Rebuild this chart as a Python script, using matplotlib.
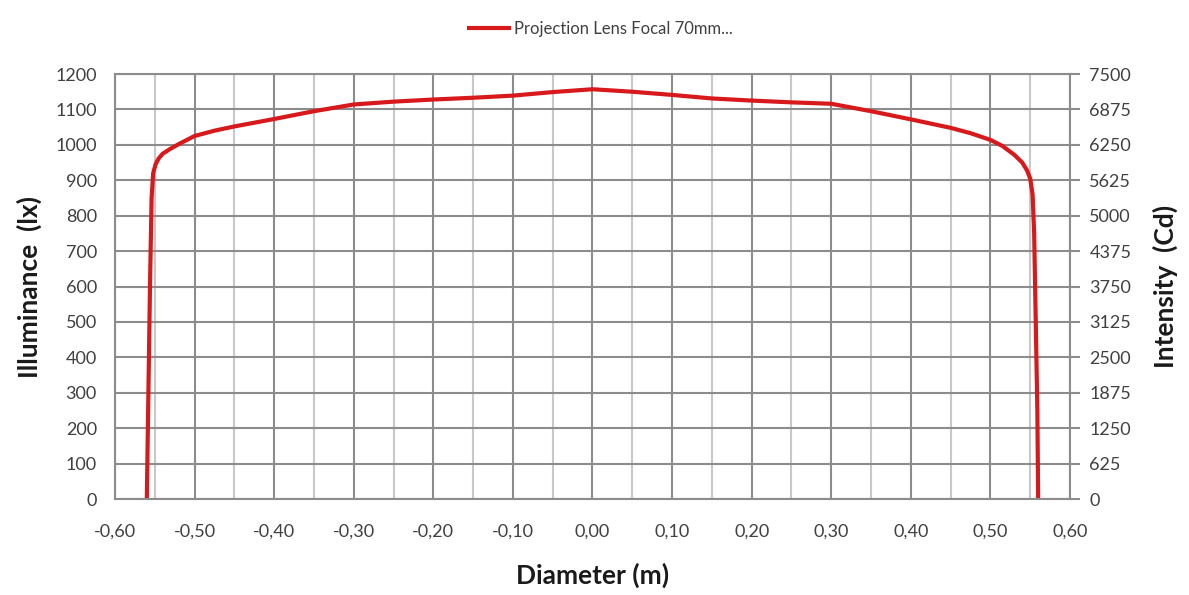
import matplotlib
matplotlib.use("Agg")
import matplotlib.pyplot as plt
from matplotlib.ticker import MultipleLocator

plt.rcParams['font.family'] = ['Lato', 'DejaVu Sans']

# Datos
diameter = [-0.560, -0.558, -0.556, -0.554, -0.552, -0.549, -0.545, -0.540, -0.531,
            -0.520, -0.500, -0.475, -0.450, -0.400, -0.350, -0.300, -0.250, -0.200,
            -0.150, -0.100, -0.050, 0.000, 0.050, 0.100, 0.150, 0.200, 0.250, 0.300,
            0.350, 0.400, 0.450, 0.475, 0.500, 0.515, 0.530, 0.540, 0.546, 0.550,
            0.553, 0.555, 0.557, 0.559, 0.560]
illuminance = [0, 300, 600, 850, 920, 945, 962, 975, 988,
               1002, 1025, 1040, 1052, 1073, 1095, 1114, 1122, 1128,
               1133, 1139, 1149, 1157, 1150, 1141, 1131, 1125, 1120, 1116,
               1095, 1072, 1048, 1033, 1014, 997, 972, 950, 928, 905,
               860, 750, 500, 250, 0]

xticks = [-0.6, -0.5, -0.4, -0.3, -0.2, -0.1, 0.0, 0.1, 0.2, 0.3, 0.4, 0.5, 0.6]
xlabels = ["-0,60", "-0,50", "-0,40", "-0,30", "-0,20", "-0,10", "0,00",
           "0,10", "0,20", "0,30", "0,40", "0,50", "0,60"]
left_ticks = [0, 100, 200, 300, 400, 500, 600, 700, 800, 900, 1000, 1100, 1200]
right_ticks = [0, 625, 1250, 1875, 2500, 3125, 3750, 4375, 5000, 5625, 6250, 6875, 7500]

fig = plt.figure(figsize=(11.89, 5.95), dpi=100)
ax = fig.add_axes([0.0967, 0.1613, 0.8032, 0.7143])

major = '#8c8c8c'
minor = '#c8c8c8'
txt = '#404040'

ax.set_xlim(-0.6, 0.6)
ax.set_ylim(0, 1200)
ax.set_xticks(xticks)
ax.set_xticklabels(xlabels)
ax.xaxis.set_minor_locator(MultipleLocator(0.05))
ax.set_yticks(left_ticks)
ax.grid(which='major', color=major, linewidth=1.5)
ax.grid(which='minor', axis='x', color=minor, linewidth=1.5)
ax.set_axisbelow(True)
for s in ax.spines.values():
    s.set_color(major)
    s.set_linewidth(1.5)
ax.tick_params(axis='both', which='both', length=0, labelsize=13, labelcolor=txt)
ax.tick_params(axis='x', pad=18)
ax.tick_params(axis='y', pad=13)

ax.plot(diameter, illuminance, color='#d7191c', linewidth=3, label='Projection Lens Focal 70mm...')

ax2 = ax.twinx()
ax2.set_ylim(0, 7500)
ax2.set_yticks(right_ticks)
for s in ax2.spines.values():
    s.set_visible(False)
ax2.tick_params(axis='y', length=7, width=1.5, color=major, labelsize=13, labelcolor=txt, pad=7)

ax.set_xlabel('Diameter (m)', fontsize=19, fontweight='bold', color='#1a1a1a', labelpad=16)
ax.set_ylabel('Illuminance  (lx)', fontsize=19, fontweight='bold', color='#1a1a1a', labelpad=10)
ax2.set_ylabel('Intensity  (Cd)', fontsize=19, fontweight='bold', color='#1a1a1a', labelpad=15)

fig.legend(loc='upper center', bbox_to_anchor=(0.505, 0.99), frameon=False, fontsize=12,
           handlelength=2.4, handletextpad=0.3, labelcolor=txt)

fig.savefig('out.png', dpi=100)
